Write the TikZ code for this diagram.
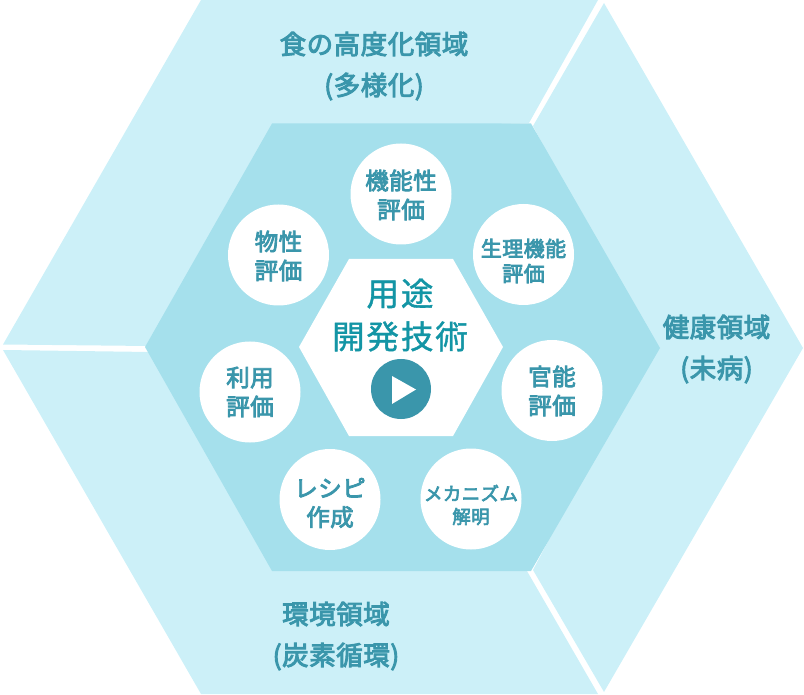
\documentclass[tikz,border=0pt]{standalone}
\usepackage{fontspec}
\setmainfont{Noto Sans CJK JP}
\newfontfamily\labelfont[FakeBold=3.5,LetterSpace=2]{Noto Sans CJK JP}
\newfontfamily\titlefont[FakeBold=1.2,LetterSpace=6]{Noto Sans CJK JP}
\definecolor{outerc}{HTML}{CCF0F8}
\definecolor{innerc}{HTML}{A5E0EC}
\definecolor{labelc}{HTML}{3A96AB}
\definecolor{titlec}{HTML}{1395A5}
\tikzset{
  outershape/.style={fill=outerc,draw=none},
  circlenode/.style={circle,fill=white,draw=none,minimum size=101pt,inner sep=0pt},
  circlelabel/.style 2 args={align=center,text=labelc,font=\labelfont\fontsize{#1}{#2}\selectfont,inner sep=0pt},
  regionlabel/.style={align=center,text=labelc,font=\labelfont\fontsize{26.5}{41}\selectfont,inner sep=0pt},
}
\begin{document}
\begin{tikzpicture}[x=1pt,y=-1pt]
\useasboundingbox (0,0) rectangle (804,695);
\fill[outershape] (201,0) -- (598,0) -- (529,123) -- (272,130) -- (150,346) -- (3,344.5) -- cycle;
\fill[outershape] (604,3) -- (803,348) -- (604,692) -- (533,570) -- (650,348) -- (533,126) -- cycle;
\fill[outershape] (3,350) -- (150,352) -- (275,565) -- (527,565) -- (527,571) -- (598,694) -- (201,694) -- cycle;
\fill[innerc] (272,123.5) -- (531,123.5) -- (660,348) -- (531,571) -- (272,571) -- (145,347) -- cycle;
\fill[white] (349,259) -- (453,259) -- (503,347) -- (453,436) -- (349,436) -- (299,347) -- cycle;
\node[circlenode] (a) at (401,194) {};
\node[circlenode] (b) at (523.5,254.5) {};
\node[circlenode] (c) at (552,390.5) {};
\node[circlenode] (d) at (471,499) {};
\node[circlenode] (e) at (330,499.5) {};
\node[circlenode] (f) at (250,392) {};
\node[circlenode] (g) at (278.5,255) {};
\node[circlelabel={23.5}{29}] at (401,195) {機能性\\評価};
\node[circlelabel={21}{25}] at (523.5,261) {生理機能\\評価};
\node[circlelabel={23.5}{29}] at (552,391) {官能\\評価};
\node[circlelabel={18.5}{23}] at (471,505) {メカニズム\\解明};
\node[circlelabel={23.5}{29}] at (330,503) {レシピ\\作成};
\node[circlelabel={23.5}{29}] at (250,392) {利用\\評価};
\node[circlelabel={23.5}{29}] at (278.5,256) {物性\\評価};
\node[regionlabel] (r1) at (374,66) {食の高度化領域\\(多様化)};
\node[regionlabel] (r2) at (716.5,349) {健康領域\\(未病)};
\node[regionlabel] (r3) at (336,636) {環境領域\\(炭素循環)};
\node[align=center,text=titlec,font=\titlefont\fontsize{32.5}{43}\selectfont,inner sep=0pt] (t) at (400,315) {用途\\開発技術};
\node[circle,fill=labelc,minimum size=60pt,inner sep=0pt] (p) at (401,389) {};
\fill[white] (392,376) -- (392,404) -- (416,389.5) -- cycle;
\end{tikzpicture}
\end{document}
